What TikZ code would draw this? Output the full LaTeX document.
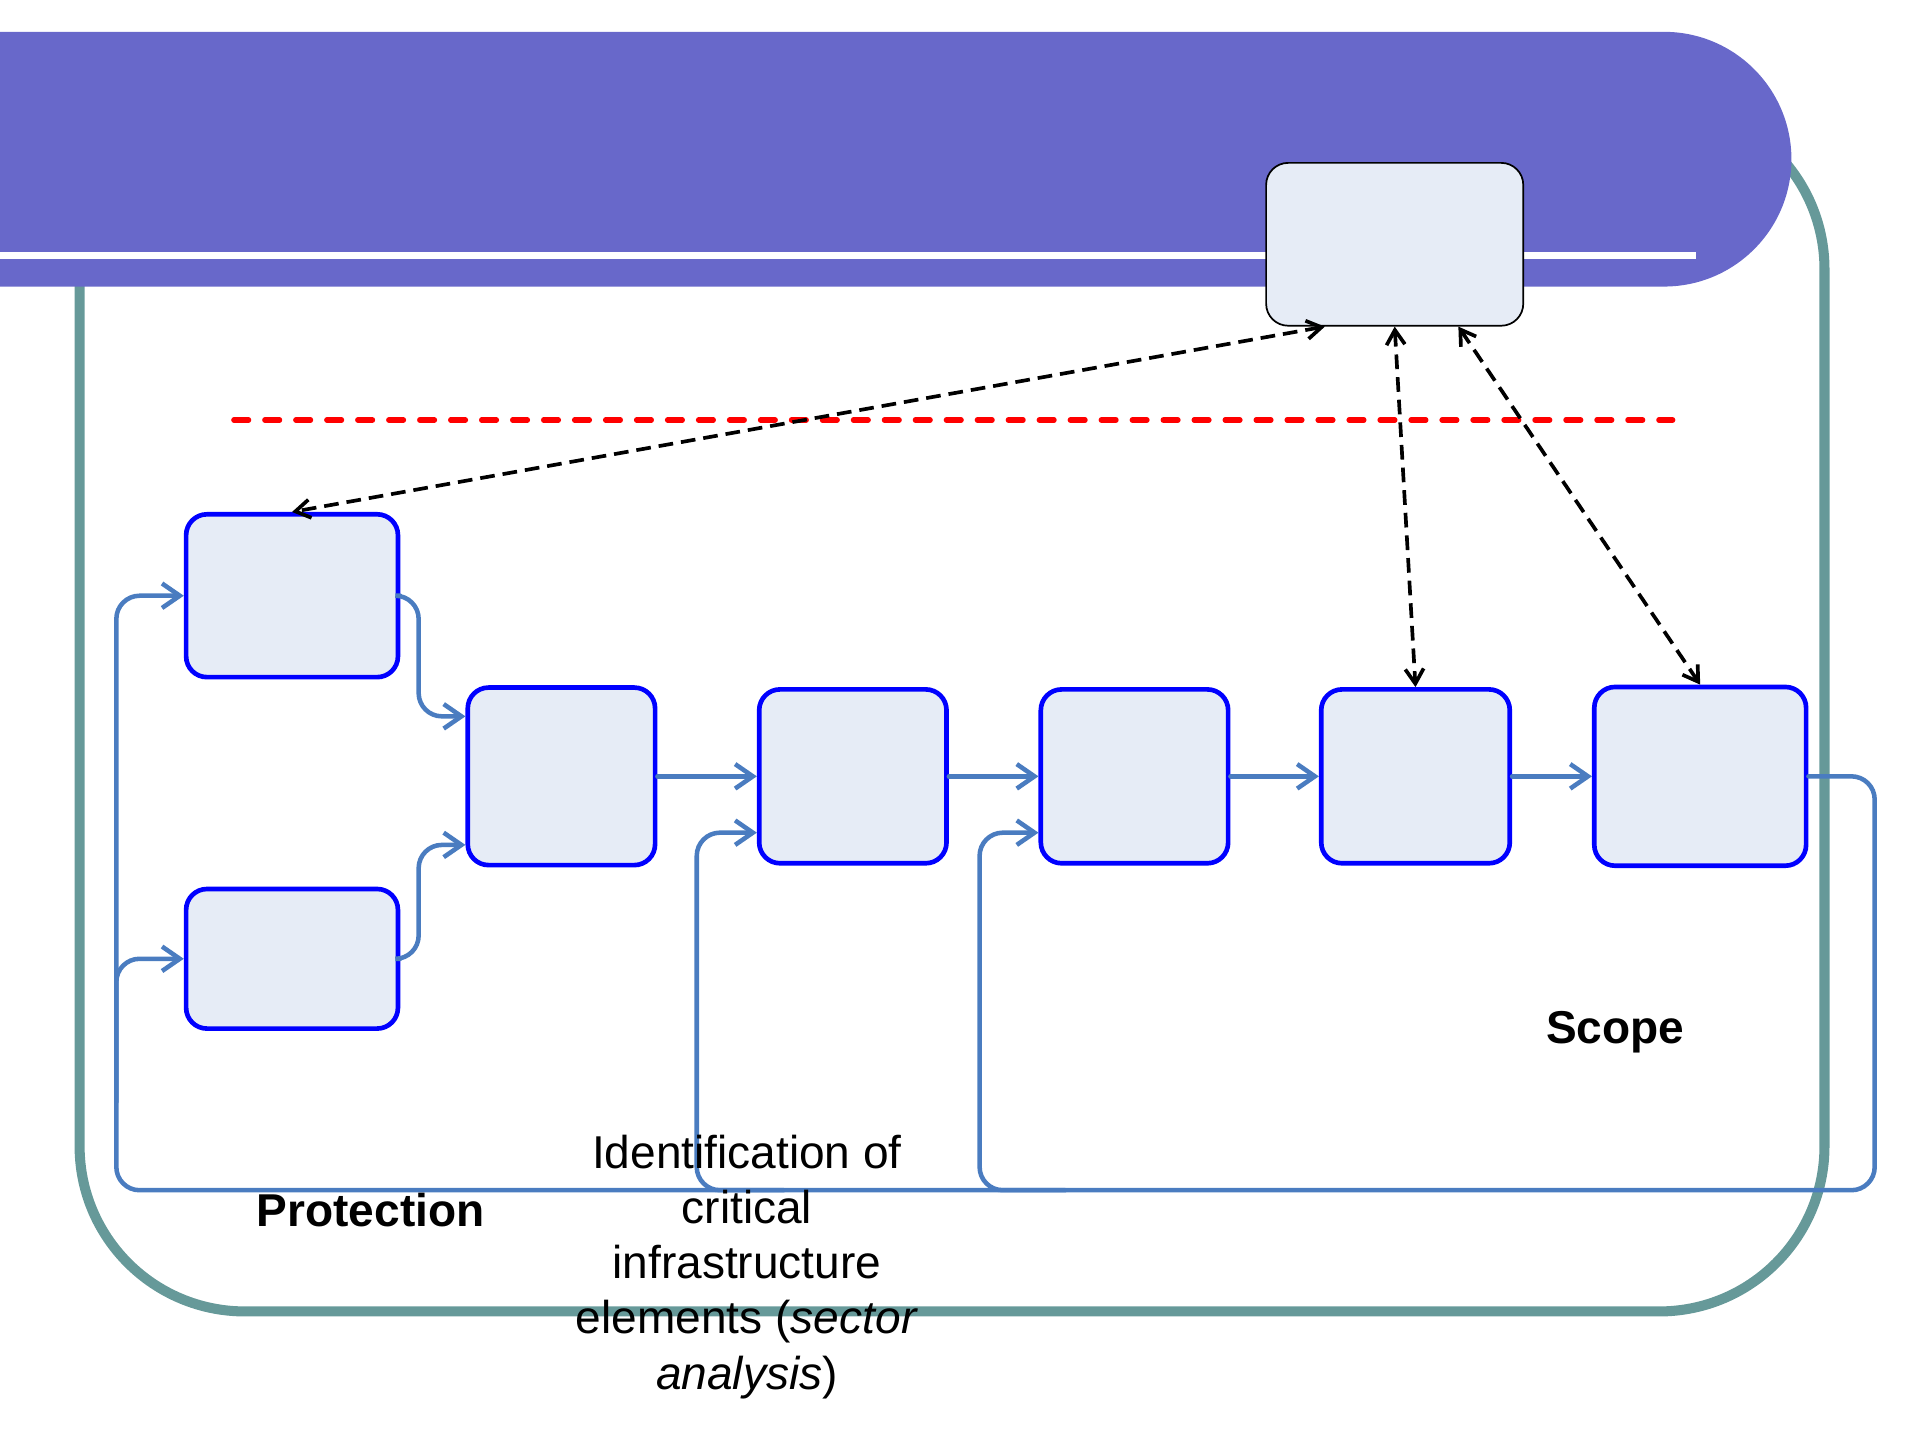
\documentclass[tikz,border=0pt]{standalone}
\usepackage{fontspec}
\setmainfont{Liberation Sans}
\usetikzlibrary{arrows.meta}

\definecolor{bannerfill}{RGB}{104,104,202}
\definecolor{framegreen}{RGB}{102,153,153}
\definecolor{boxfill}{RGB}{230,236,246}
\definecolor{flowblue}{RGB}{74,124,192}

\tikzset{
  stagebox/.style={draw=blue, line width=0.38mm, fill=boxfill, rounded corners=1.7mm, inner sep=0pt},
  topbox/.style={draw=black, line width=0.4pt, fill=boxfill, rounded corners=1.8mm, inner sep=0pt},
  flow/.style={draw=flowblue, line width=0.37mm, rounded corners=1.9mm, line cap=round,
    -{Straight Barb[length=1.45mm,width=2.0mm]}},
  link/.style={draw=black, line width=0.3mm, dash pattern=on 1.2mm off 0.65mm,
    {Straight Barb[length=1.2mm,width=1.5mm]}-{Straight Barb[length=1.2mm,width=1.5mm]}},
  lbl/.style={inner sep=0pt, font=\fontsize{10.7}{12.8}\selectfont},
}

\begin{document}
\begin{tikzpicture}[x=0.1mm, y=-0.1mm]
\useasboundingbox (0,0) rectangle (1568,1176);

% outer frame
\draw[framegreen, line width=0.82mm, rounded corners=13.5mm] (65,85) rectangle (1490,1071);

% title banner with its white rule
\fill[bannerfill, rounded corners=10.4mm] (-300,26) rectangle (1463,234);
\fill[white] (-5,205.5) rectangle (1385,211.8);

% boundary line
\draw[red, line width=0.44mm, line cap=round, dash pattern=on 1.2mm off 1.33mm] (191,343) -- (1366,343);

% boxes
\node[topbox, minimum width=21mm, minimum height=13.3mm] (T) at (1139,199.5) {};
\node[stagebox, minimum width=17.3mm, minimum height=13.3mm] (A) at (238.5,486.5) {};
\node[stagebox, minimum width=17.3mm, minimum height=11.4mm] (B) at (238.5,783) {};
\node[stagebox, minimum width=15.3mm, minimum height=14.5mm] (C) at (458.5,634) {};
\node[stagebox, minimum width=15.3mm, minimum height=14.2mm] (D) at (696.5,634) {};
\node[stagebox, minimum width=15.3mm, minimum height=14.2mm] (E) at (926.5,634) {};
\node[stagebox, minimum width=15.4mm, minimum height=14.2mm] (F) at (1156,634) {};
\node[stagebox, minimum width=17.3mm, minimum height=14.6mm] (G) at (1388.5,634) {};

% forward flow
\draw[flow] (A.east) -- ++(15,0) |- ([yshift=4.9mm]C.west);
\draw[flow] (B.east) -- ++(15,0) |- ([yshift=-5.6mm]C.west);
\draw[flow] (C.east) -- (D.west);
\draw[flow] (D.east) -- (E.west);
\draw[flow] (E.east) -- (F.west);
\draw[flow] (F.east) -- (G.west);

% feedback loop
\coordinate (loopR) at (1531,972);
\coordinate (loopL) at (95,972);
\coordinate (tapB) at (95,900);
\coordinate (tapD) at (640,972);
\coordinate (tapE) at (870,972);
\draw[flow] (G.east) -| (loopR) -- (loopL) |- (A.west);
\draw[flow] (tapB) |- (B.west);
\draw[flow] (tapD) -- (569,972) |- ([yshift=-4.6mm]D.west);
\draw[flow] (tapE) -- (800,972) |- ([yshift=-4.6mm]E.west);

% links to the top box
\draw[link] ([xshift=-5.7mm]T.south) -- (A.north);
\draw[link] (T.south) -- (F.north);
\draw[link] ([xshift=5.2mm]T.south) -- (G.north);

% labels
\node[lbl, anchor=base] (prot) at (302.7,1002) {\bfseries Protection};
\node[lbl, anchor=base] (scope) at (1319,852) {\bfseries Scope};
\node[lbl, anchor=north, align=center] (ident) at (610,926.5)
  {Identification of\\critical\\infrastructure\\elements (\textit{sector}\\\textit{analysis})};
\end{tikzpicture}
\end{document}
